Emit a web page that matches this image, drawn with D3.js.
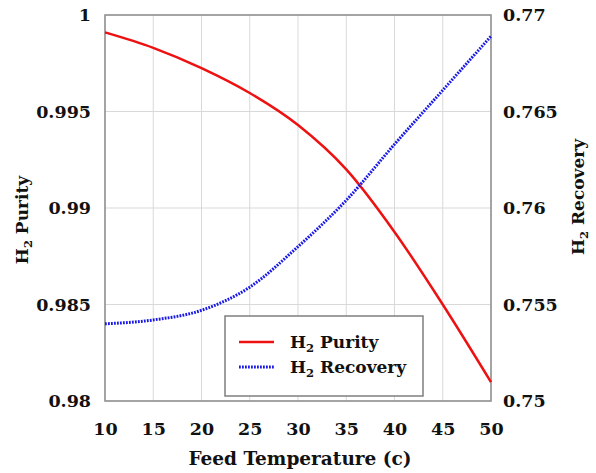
<!DOCTYPE html>
<html>
<head>
  <style>
    body { margin: 0; background: #fff; }
    text { font-family: "DejaVu Serif", serif; font-weight: bold; fill: #111; }
  </style>
</head>
<body>
  <script src="https://cdn.jsdelivr.net/npm/d3@7/dist/d3.min.js"></script>
  <script>
    // data
    var temps = [10, 15, 20, 25, 30, 35, 40, 45, 50];
    var purity = [0.9991, 0.9983, 0.99725, 0.99596, 0.9943, 0.9920, 0.98876, 0.9850, 0.98098];
    var recovery = [0.7540, 0.7542, 0.7547, 0.7559, 0.7580, 0.7604, 0.7633, 0.7661, 0.7689];
    var xTicks = [10, 15, 20, 25, 30, 35, 40, 45, 50];
    var yLeftTicks = [0.98, 0.985, 0.99, 0.995, 1];
    var yRightTicks = [0.75, 0.755, 0.76, 0.765, 0.77];

    var width = 596, height = 473;
    var margin = {top: 15, right: 105, bottom: 72, left: 105};
    var w = width - margin.left - margin.right;
    var h = height - margin.top - margin.bottom;

    var x = d3.scaleLinear().domain([10, 50]).range([0, w]);
    var yL = d3.scaleLinear().domain([0.98, 1]).range([h, 0]);
    var yR = d3.scaleLinear().domain([0.75, 0.77]).range([h, 0]);

    var svg = d3.select("body").append("svg")
      .attr("width", width)
      .attr("height", height);
    var g = svg.append("g")
      .attr("transform", "translate(" + margin.left + "," + margin.top + ")");

    // grid
    g.selectAll(".vgrid").data(xTicks).enter().append("line")
      .attr("x1", function(d) { return x(d); }).attr("x2", function(d) { return x(d); })
      .attr("y1", 0).attr("y2", h)
      .attr("stroke", "#d9d9d9").attr("stroke-width", 1);
    g.selectAll(".hgrid").data(yLeftTicks).enter().append("line")
      .attr("x1", 0).attr("x2", w)
      .attr("y1", function(d) { return yL(d); }).attr("y2", function(d) { return yL(d); })
      .attr("stroke", "#d9d9d9").attr("stroke-width", 1);

    // axes
    var fmt = function(d) { return d3.format("")(+d.toFixed(3)); };
    var xAxis = g.append("g").attr("transform", "translate(0," + h + ")")
      .call(d3.axisBottom(x).tickValues(xTicks).tickSize(0).tickPadding(22).tickFormat(d3.format("d")));
    var yAxisL = g.append("g")
      .call(d3.axisLeft(yL).tickValues(yLeftTicks).tickSize(0).tickPadding(14).tickFormat(fmt));
    var yAxisR = g.append("g").attr("transform", "translate(" + w + ",0)")
      .call(d3.axisRight(yR).tickValues(yRightTicks).tickSize(0).tickPadding(12).tickFormat(fmt));
    [xAxis, yAxisL, yAxisR].forEach(function(a) {
      a.select(".domain").remove();
      a.selectAll("text").style("font-family", "DejaVu Serif").style("font-weight", "bold")
        .style("font-size", "17.5px").attr("fill", "#111");
    });

    // plot frame
    g.append("rect").attr("x", 0).attr("y", 0).attr("width", w).attr("height", h)
      .attr("fill", "none").attr("stroke", "#8c8c8c").attr("stroke-width", 1.5);

    // lines
    var lineP = d3.line().curve(d3.curveMonotoneX)
      .x(function(d, i) { return x(temps[i]); })
      .y(function(d) { return yL(d); });
    var lineR = d3.line().curve(d3.curveMonotoneX)
      .x(function(d, i) { return x(temps[i]); })
      .y(function(d) { return yR(d); });

    g.append("path").datum(purity).attr("d", lineP)
      .attr("fill", "none").attr("stroke", "#ee1111").attr("stroke-width", 2.5);
    g.append("path").datum(recovery).attr("d", lineR)
      .attr("fill", "none").attr("stroke", "#1a1ae6").attr("stroke-width", 3)
      .attr("stroke-dasharray", "1.8,1.2");

    // axis titles (both read bottom to top)
    function h2Title(parent, label, size) {
      parent.append("tspan").text("H");
      parent.append("tspan").attr("font-size", (size * 0.68) + "px").attr("dy", 4).text("2");
      parent.append("tspan").attr("dy", -4).text(" " + label);
    }
    var tL = svg.append("text")
      .attr("transform", "translate(28,220) rotate(-90)")
      .attr("text-anchor", "middle").style("font-size", "17px");
    h2Title(tL, "Purity", 17);

    var tR = svg.append("text")
      .attr("transform", "translate(584,197) rotate(-90)")
      .attr("text-anchor", "middle").style("font-size", "17px");
    h2Title(tR, "Recovery", 17);

    svg.append("text")
      .attr("x", margin.left + w / 2 + 2).attr("y", 465)
      .attr("text-anchor", "middle").style("font-size", "18.5px")
      .text("Feed Temperature (c)");

    // legend
    var lg = svg.append("g").attr("transform", "translate(225,316)");
    lg.append("rect").attr("width", 198).attr("height", 80)
      .attr("fill", "#fff").attr("stroke", "#7f7f7f").attr("stroke-width", 1.5);
    var items = [
      {name: "Purity", color: "#ee1111", dash: null, width: 2.5},
      {name: "Recovery", color: "#1a1ae6", dash: "1.8,1.2", width: 3}
    ];
    items.forEach(function(it, i) {
      var yy = 26 + i * 25;
      lg.append("line").attr("x1", 14).attr("x2", 49).attr("y1", yy).attr("y2", yy)
        .attr("stroke", it.color).attr("stroke-width", it.width)
        .attr("stroke-dasharray", it.dash);
      var t = lg.append("text").attr("x", 65).attr("y", yy + 6).style("font-size", "17px");
      h2Title(t, it.name, 17);
    });
  </script>
</body>
</html>
